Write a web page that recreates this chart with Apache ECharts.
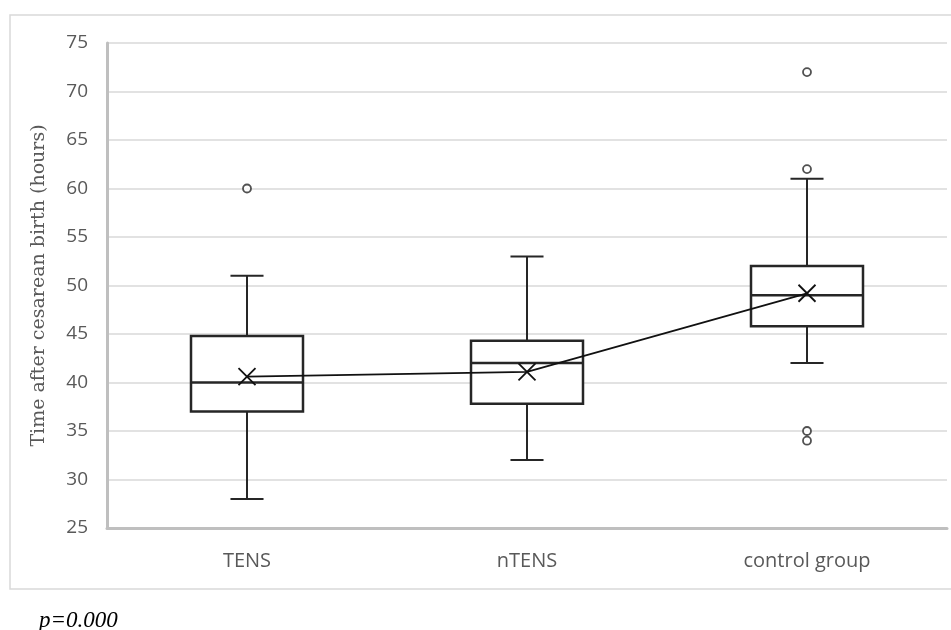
<!DOCTYPE html>
<html>
<head>
<meta charset="utf-8">
<script src="https://cdn.jsdelivr.net/npm/echarts@6/dist/echarts.min.js"></script>
<style>
  html, body { margin: 0; padding: 0; background: #fff; }
  #main { width: 951px; height: 630px; }
</style>
</head>
<body>
<div id="main"></div>
<script>
var categories = ['TENS', 'nTENS', 'control group'];
// [index, min, q1, median, q3, max]
var boxValues = [
    [0, 28, 37, 40, 44.8, 51],
    [1, 32, 37.8, 42, 44.3, 53],
    [2, 42, 45.8, 49, 52, 61]
];
var meanValues = [40.6, 41.1, 49.2];
var outliers = [[0, 60], [2, 72], [2, 62], [2, 35], [2, 34]];
var yTicks = { min: 25, max: 75, interval: 5 };

var myChart = echarts.init(document.getElementById('main'));

var option = {
    animation: false,
    backgroundColor: '#fff',
    title: {
        text: 'p=0.000',
        left: 34,
        top: 604,
        textStyle: {
            fontFamily: 'Liberation Serif',
            fontStyle: 'italic',
            fontWeight: 'normal',
            fontSize: 23,
            color: '#000'
        }
    },
    // outer chart frame
    graphic: [{
        type: 'rect',
        shape: { x: 10, y: 15, width: 960, height: 574 },
        style: { fill: 'none', stroke: '#d9d9d9', lineWidth: 1.5 },
        silent: true
    }],
    grid: {
        left: 107,
        right: 4,
        top: 43,
        bottom: 102
    },
    xAxis: {
        type: 'category',
        data: categories,
        boundaryGap: true,
        axisTick: { show: false },
        axisLine: { show: true, lineStyle: { color: '#bfbfbf', width: 3 } },
        axisLabel: {
            margin: 23,
            fontFamily: 'Open Sans',
            fontSize: 20,
            color: '#595959'
        }
    },
    yAxis: {
        type: 'value',
        min: yTicks.min,
        max: yTicks.max,
        interval: yTicks.interval,
        name: 'Time after cesarean birth (hours)',
        nameLocation: 'middle',
        nameGap: 58,
        nameTextStyle: {
            fontFamily: 'DejaVu Serif',
            fontSize: 19,
            color: '#595959'
        },
        axisLine: { show: true, lineStyle: { color: '#bfbfbf', width: 3 } },
        axisTick: { show: false },
        axisLabel: {
            margin: 19,
            fontFamily: 'Open Sans',
            fontSize: 19,
            color: '#595959'
        },
        splitLine: { lineStyle: { color: '#d9d9d9', width: 1.5 } }
    },
    series: [
        {
            type: 'custom',
            data: boxValues,
            encode: { x: 0, y: [1, 2, 3, 4, 5] },
            z: 3,
            renderItem: function (params, api) {
                var x = api.value(0);
                var lo = api.coord([x, api.value(1)]);
                var q1 = api.coord([x, api.value(2)]);
                var med = api.coord([x, api.value(3)]);
                var q3 = api.coord([x, api.value(4)]);
                var hi = api.coord([x, api.value(5)]);
                var band = api.size([1, 0])[0];
                var bw = band * 0.4 / 2;
                var cw = band * 0.118 / 2;
                var cx = lo[0];
                var st = { stroke: '#262626', lineWidth: 2, fill: null };
                return {
                    type: 'group',
                    children: [
                        { type: 'line', shape: { x1: cx, y1: hi[1], x2: cx, y2: q3[1] }, style: st },
                        { type: 'line', shape: { x1: cx, y1: q1[1], x2: cx, y2: lo[1] }, style: st },
                        { type: 'line', shape: { x1: cx - cw, y1: hi[1], x2: cx + cw, y2: hi[1] }, style: st },
                        { type: 'line', shape: { x1: cx - cw, y1: lo[1], x2: cx + cw, y2: lo[1] }, style: st },
                        { type: 'rect', shape: { x: cx - bw, y: q3[1], width: bw * 2, height: q1[1] - q3[1] },
                          style: { stroke: '#262626', lineWidth: 2.5, fill: '#fff' } },
                        { type: 'line', shape: { x1: cx - bw, y1: med[1], x2: cx + bw, y2: med[1] },
                          style: { stroke: '#262626', lineWidth: 2.5 } }
                    ]
                };
            }
        },
        {
            type: 'scatter',
            data: outliers,
            z: 4,
            symbol: 'circle',
            symbolSize: 8,
            itemStyle: { color: '#fff', borderColor: '#262626', borderWidth: 1.8 }
        },
        {
            type: 'line',
            data: meanValues,
            z: 5,
            symbol: 'path://M0,0L10,10M10,0L0,10',
            symbolSize: 17,
            lineStyle: { color: '#111', width: 1.8 },
            itemStyle: { color: 'none', borderColor: '#111', borderWidth: 1.8 }
        }
    ]
};

myChart.setOption(option);
window.addEventListener('resize', function () {
    myChart.resize();
});
</script>
</body>
</html>
